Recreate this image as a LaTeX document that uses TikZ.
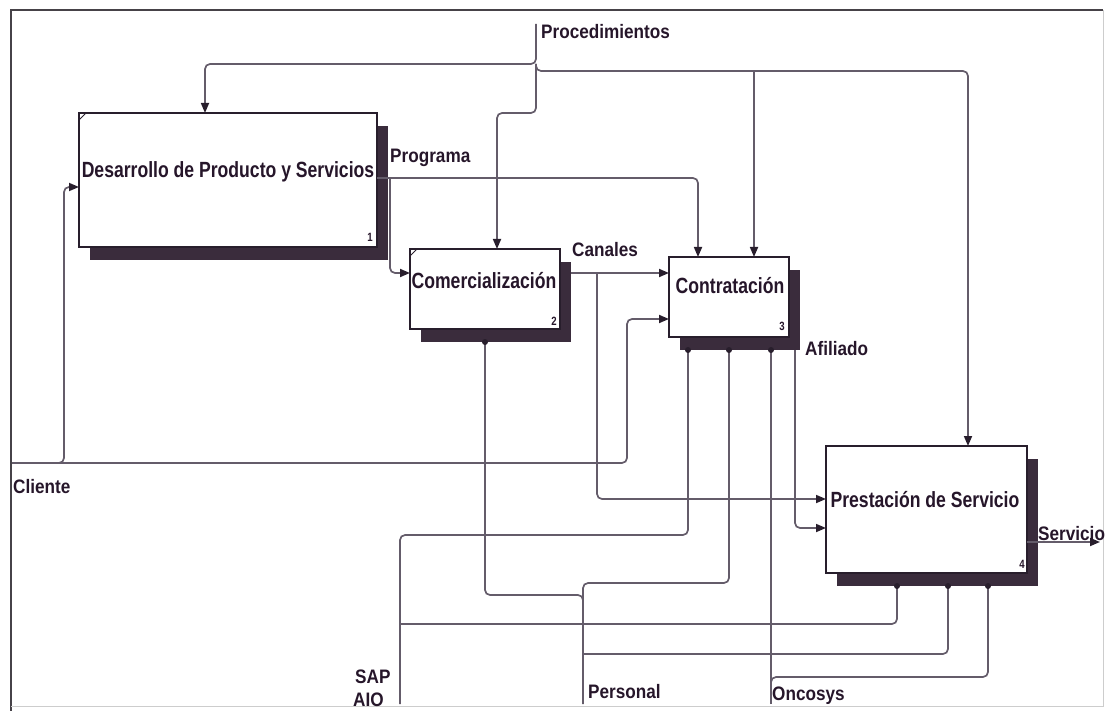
\documentclass[tikz,border=0pt]{standalone}
\usepackage{fontspec}
\newfontfamily\boxfont{Liberation Sans}[FakeStretch=0.8]
\newfontfamily\lblfont{Liberation Sans}[FakeStretch=0.88]
\usetikzlibrary{arrows.meta}

\definecolor{linec}{RGB}{100,92,106}
\definecolor{boxc}{RGB}{40,30,44}
\definecolor{shadowc}{RGB}{58,44,60}
\definecolor{textc}{RGB}{38,22,42}
\definecolor{framec}{RGB}{70,66,72}
\definecolor{framelight}{RGB}{205,205,205}

\begin{document}
\begin{tikzpicture}[x=1pt,y=-1pt,
  conn/.style={draw=linec, line width=1.7pt, rounded corners=5pt},
  arr/.style={conn, -{Triangle[length=10pt,width=8pt,color=boxc]}},
  shadowbox/.style={fill=shadowc, draw=none, inner sep=0pt, outer sep=0pt},
  procbox/.style={fill=white, draw=boxc, line width=2.6pt, inner sep=0pt, outer sep=0pt},
  boxtext/.style={text=textc, inner sep=0pt, anchor=base,
    font=\boxfont\bfseries\fontsize{22pt}{24pt}\selectfont},
  numtext/.style={text=textc, inner sep=0pt, anchor=base east,
    font=\boxfont\bfseries\fontsize{12pt}{14pt}\selectfont},
  lbl/.style={text=textc, inner sep=0pt, anchor=base west,
    font=\lblfont\bfseries\fontsize{19.5pt}{21pt}\selectfont},
  bump/.style={fill=boxc}
]
\useasboundingbox (0,0) rectangle (1105,711);

% outer frame
\draw[framec, line width=1.6pt] (10,10) -- (1103,10);
\draw[framec, line width=1.6pt] (11,10) -- (11,711);
\draw[framelight, line width=1pt] (1103,10) -- (1103,706) -- (11,706);

% activity boxes with their shadows
\node[shadowbox, minimum width=298pt, minimum height=134pt] (s1) at (239,193) {};
\node[procbox,   minimum width=298pt, minimum height=134pt] (b1) at (228,180) {};
\node[shadowbox, minimum width=150pt, minimum height=80pt] (s2) at (496,302) {};
\node[procbox,   minimum width=150pt, minimum height=80pt] (b2) at (485,289) {};
\node[shadowbox, minimum width=120pt, minimum height=80pt] (s3) at (740,310) {};
\node[procbox,   minimum width=120pt, minimum height=80pt] (b3) at (729,297) {};
\node[shadowbox, minimum width=201pt, minimum height=127pt] (s4) at (937.5,522.5) {};
\node[procbox,   minimum width=201pt, minimum height=127pt] (b4) at (926.5,509.5) {};

% corner ticks
\draw[boxc, line width=1pt] ([yshift=-7pt]b1.north west) -- ([xshift=7pt]b1.north west);
\draw[boxc, line width=1pt] ([yshift=-7pt]b2.north west) -- ([xshift=7pt]b2.north west);

% junction and border points
\coordinate (procTop) at (536,24);
\coordinate (procJ) at (536,64);
\coordinate (procR) at (754,71);
\coordinate (progJ) at (390,178);
\coordinate (canJ) at (597,273);
\coordinate (cliIn) at (12,463);
\coordinate (cliJ) at (52,463);
\coordinate (sapIn) at (400,704);
\coordinate (sapJ) at (400,624);
\coordinate (perIn) at (583,704);
\coordinate (perJa) at (583,612);
\coordinate (perJb) at (583,654);
\coordinate (oncIn) at (771,704);
\coordinate (oncJ) at (771,692);
\coordinate (servOut) at (1100,542);

% controls: Procedimientos
\draw[arr] (procTop) |- (205,64) -- (b1.north -| 205,0);
\draw[arr] (procJ) |- (968,71) -- (b4.north -| 968,0);
\draw[arr] (procJ) |- (497,113) -- (b2.north -| 497,0);
\draw[arr] (procR) -- (b3.north -| 754,0);

% Programa
\draw[arr] (b1.east |- progJ) -| (b3.north -| 698,0);
\draw[arr] (progJ) |- (b2.west |- 0,273);

% Canales
\draw[arr] (s2.east |- 0,273) -- (b3.west |- 0,273);
\draw[arr] (canJ) |- (b4.west |- 0,499);

% Cliente
\draw[arr] (cliIn) -| (627,319) -- (b3.west |- 0,319);
\draw[arr] (cliJ) -| (64,187) -- (b1.west |- 0,187);

% Afiliado
\draw[arr] (s3.south -| 795,0) |- (b4.west |- 0,528);

% mechanisms
\draw[conn] (sapIn) |- (688,535) -- (s3.south -| 688,0);
\draw[conn] (sapJ) -| (s4.south -| 897,0);
\draw[conn] (perIn) |- (729,583) -- (s3.south -| 729,0);
\draw[conn] (perJa) |- (485,595) -- (s2.south -| 485,0);
\draw[conn] (perJb) -| (s4.south -| 948,0);
\draw[conn] (oncIn) -- (s3.south -| 771,0);
\draw[conn] (oncJ) |- (988,677) -- (s4.south -| 988,0);

% output: Servicio
\draw[arr] (b4.east |- servOut) -- (servOut);

% mechanism attachment bumps
\foreach \p in {(s2.south -| 485,0), (s3.south -| 688,0), (s3.south -| 729,0),
                (s3.south -| 771,0), (s4.south -| 897,0), (s4.south -| 948,0),
                (s4.south -| 988,0)}
  \fill[bump] \p circle (3pt);

% activity names and numbers
\node[boxtext] (t1) at (228,178) {Desarrollo de Producto y Servicios};
\node[boxtext] (t2) at (484,288) {Comercialización};
\node[boxtext] (t3) at (730,293) {Contratación};
\node[boxtext] (t4) at (925,507) {Prestación de Servicio};
\node[numtext] (n1) at (373,242) {1};
\node[numtext] (n2) at (557,325) {2};
\node[numtext] (n3) at (785,330) {3};
\node[numtext] (n4) at (1025,568) {4};

% arrow labels
\node[lbl] (lProc) at (541,39) {Procedimientos};
\node[lbl] (lProg) at (390,163) {Programa};
\node[lbl] (lCan)  at (572,257) {Canales};
\node[lbl] (lAfi)  at (805,355) {Afiliado};
\node[lbl] (lCli)  at (13,493) {Cliente};
\node[lbl] (lSap)  at (355,683) {SAP};
\node[lbl] (lAio)  at (353,706) {AIO};
\node[lbl] (lPer)  at (588,698) {Personal};
\node[lbl] (lOnc)  at (772,700) {Oncosys};
\node[lbl] (lServ) at (1038,540) {Servicio};
\end{tikzpicture}
\end{document}
